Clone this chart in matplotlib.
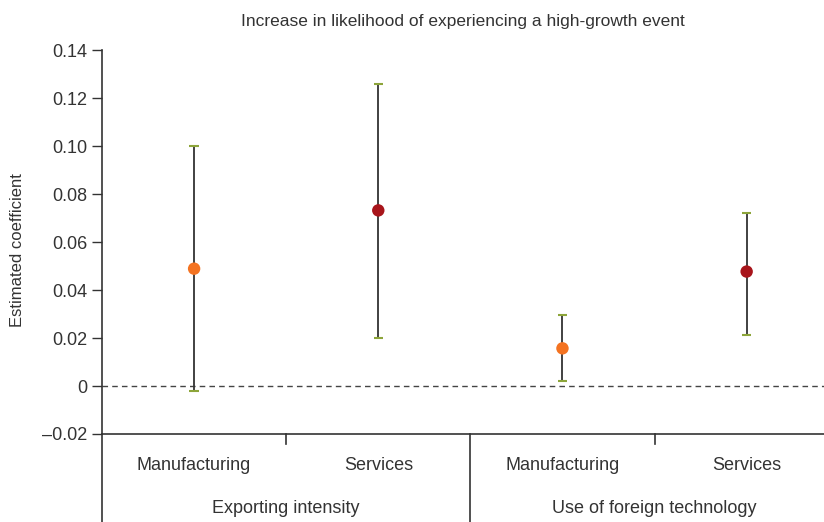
import numpy as np
import matplotlib.pyplot as plt
from matplotlib.lines import Line2D

plt.rcParams['font.family'] = ['Liberation Sans Narrow', 'Liberation Sans', 'DejaVu Sans']
plt.rcParams['font.size'] = 13

sectors = ["Manufacturing", "Services", "Manufacturing", "Services"]
groups = ["Exporting intensity", "Use of foreign technology"]
coef = np.array([0.0489, 0.0732, 0.0157, 0.0477])
upper = np.array([0.100, 0.126, 0.0294, 0.0723])
lower = np.array([-0.002, 0.020, 0.0021, 0.0213])
colors = ["#F47321", "#A8151B", "#F47321", "#A8151B"]

x = np.arange(len(coef)) + 0.5

fig = plt.figure(figsize=(8.24, 5.22), dpi=100)
ax = fig.add_axes([0.1238, 0.1686, 0.8762, 0.7354])

ax.axhline(0, color='#444444', lw=1, ls=(0, (4, 3)), zorder=1)
ax.vlines(x, lower, upper, color='#333333', lw=1.3, zorder=2)
ax.hlines(upper, x - 0.025, x + 0.025, color='#8DA53A', lw=1.5, zorder=3)
ax.hlines(lower, x - 0.025, x + 0.025, color='#8DA53A', lw=1.5, zorder=3)
ax.scatter(x, coef, s=80, c=colors, zorder=4, edgecolors='none')

ax.set_xlim(0, 3.92)
ax.set_ylim(-0.02, 0.14)
yt = np.arange(-0.02, 0.141, 0.02)
ax.set_yticks(yt)
ax.set_yticklabels(['\u20130.02', '0'] + ['%.2f' % v for v in yt[2:]])
ax.set_xticks([1, 3])
ax.set_xticklabels([])
ax.tick_params(axis='x', direction='in', length=0)
ax.tick_params(axis='y', length=7, width=1, color='#333333', labelcolor='#333333', labelsize=13)

for s in ['top', 'right']:
    ax.spines[s].set_visible(False)
for s in ['left', 'bottom']:
    ax.spines[s].set_color('#333333')
    ax.spines[s].set_linewidth(1.2)

# small tick marks below axis between categories
trans = ax.get_xaxis_transform()
for xt in [1, 3]:
    ax.add_line(Line2D([xt, xt], [0, -0.025], transform=trans, color='#333333', lw=1.2, clip_on=False))
# group separators extending down
for xs in [0, 2]:
    ax.add_line(Line2D([xs, xs], [0, -0.25], transform=trans, color='#333333', lw=1.2, clip_on=False))

for xi, lab in zip(x, sectors):
    ax.text(xi, -0.083, lab, transform=trans, ha='center', va='center', fontsize=13, color='#333333')
for gi, lab in enumerate(groups):
    ax.text(2 * gi + 1, -0.195, lab, transform=trans, ha='center', va='center', fontsize=13, color='#333333')

ax.set_ylabel("Estimated coefficient", fontsize=12, color='#333333')
ax.yaxis.set_label_coords(-0.107, 0.48)
fig.text(0.562, 0.958, "Increase in likelihood of experiencing a high-growth event",
         ha='center', va='center', fontsize=12.5, color='#333333')

fig.savefig("out.png", dpi=100)
